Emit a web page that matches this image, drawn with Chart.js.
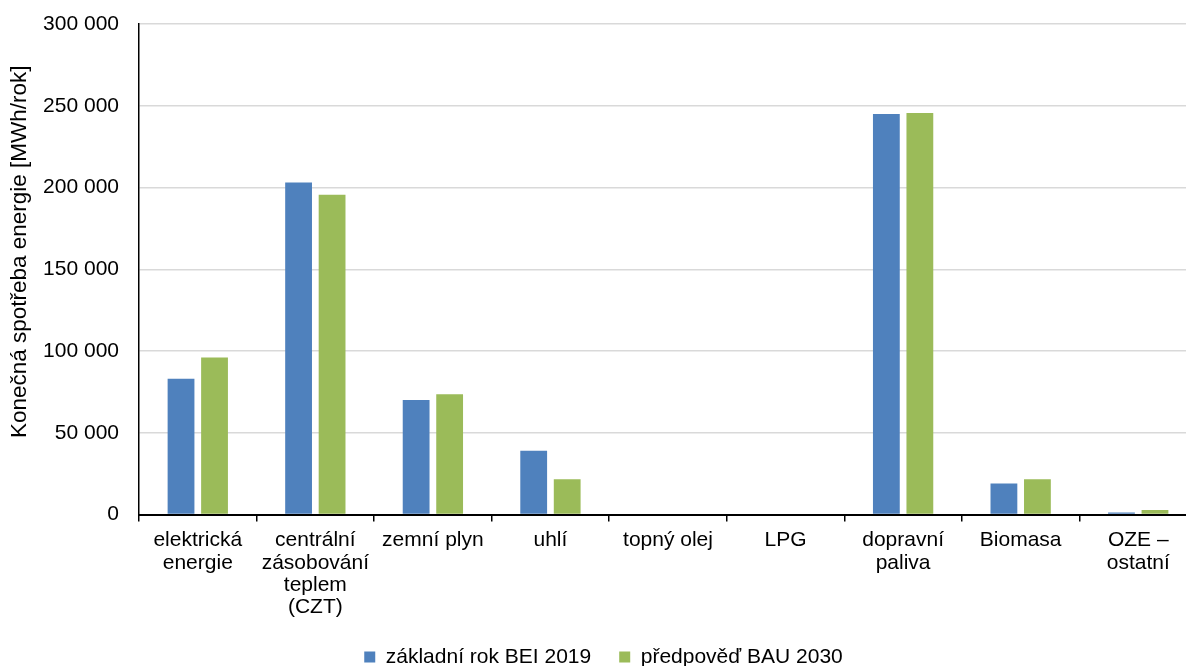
<!DOCTYPE html>
<html>
<head>
<meta charset="utf-8">
<script src="https://cdn.jsdelivr.net/npm/chart.js@4/dist/chart.umd.min.js"></script>
<style>
  html, body { margin: 0; padding: 0; background: #fff; overflow: hidden; }
  #wrap { width: 1206px; height: 666px; position: relative; }
</style>
</head>
<body>
<div id="wrap"><canvas id="c"></canvas></div>
<script>
const categories = [
  ["elektrická", "energie"],
  ["centrální", "zásobování", "teplem", "(CZT)"],
  "zemní plyn",
  "uhlí",
  "topný olej",
  "LPG",
  ["dopravní", "paliva"],
  "Biomasa",
  ["OZE –", "ostatní"]
];
const seriesNames = ["základní rok BEI 2019", "předpověď BAU 2030"];
const baseline2019 = [83000, 203000, 70000, 39000, 0, 0, 245000, 19000, 1200];
const bau2030 = [96000, 195500, 73500, 21500, 0, 0, 245500, 21500, 2700];
const yAxisTitle = "Konečná spotřeba energie [MWh/rok]";
const yMax = 300000;
const yStep = 50000;

const FONT = "'Liberation Sans', Arial, sans-serif";
Chart.defaults.font.family = FONT;
Chart.defaults.color = '#000';

// Layout helper: legend placement and y-title offset.
const layoutTweaks = {
  id: 'layoutTweaks',
  beforeUpdate(chart) {
    const lg = chart.legend;
    if (lg && !lg._patchedFit) {
      const orig = lg.fit;
      lg.fit = function () { orig.call(this); this.height = 44; };
      lg._patchedFit = true;
    }
  },
  afterLayout(chart) {
    const lg = chart.legend;
    if (lg) {
      lg.top = 618.5;
      lg.bottom = chart.height;
      lg.left = 10;
    }
    const ys = chart.scales.y;
    if (ys && !ys._patchedTitle) {
      const origTitle = ys.drawTitle;
      ys.drawTitle = function () {
        const ctx = this.ctx;
        ctx.save();
        ctx.translate(0, -17.5);
        origTitle.apply(this, arguments);
        ctx.restore();
      };
      ys._patchedTitle = true;
    }
  }
};

new Chart(document.getElementById('c'), {
  type: 'bar',
  data: {
    labels: categories,
    datasets: [
      { label: seriesNames[0], data: baseline2019, backgroundColor: '#4f81bd', categoryPercentage: 0.57, barPercentage: 0.8 },
      { label: seriesNames[1], data: bau2030, backgroundColor: '#9bbb59', categoryPercentage: 0.57, barPercentage: 0.8 }
    ]
  },
  plugins: [layoutTweaks],
  options: {
    responsive: true,
    maintainAspectRatio: false,
    animation: false,
    layout: { padding: { top: 4, right: 9, left: 0, bottom: 0 } },
    plugins: {
      legend: {
        position: 'bottom',
        labels: { boxWidth: 11, boxHeight: 11, padding: 28, font: { size: 21 }, color: '#000' }
      },
      tooltip: { enabled: false }
    },
    scales: {
      x: {
        grid: { display: true, offset: true, drawOnChartArea: false, drawTicks: true, tickLength: 7, color: '#000', lineWidth: 1.5 },
        border: { display: true, color: '#000', width: 2 },
        ticks: { font: { size: 21, lineHeight: 1.06 }, color: '#000', padding: 8, maxRotation: 0, autoSkip: false },
        afterFit(scale) { scale.height = 107.5; }
      },
      y: {
        min: 0,
        max: yMax,
        ticks: {
          stepSize: yStep,
          font: { size: 21 },
          color: '#000',
          padding: 20,
          callback: (v) => String(v).replace(/\B(?=(\d{3})+(?!\d))/g, ' ')
        },
        grid: { color: '#d9d9d9', lineWidth: 1.5, drawTicks: false },
        border: { display: true, color: '#000', width: 1.5 },
        title: { display: true, text: yAxisTitle, font: { size: 22.5 }, color: '#000', padding: { top: 6.5, bottom: 0 } },
        afterFit(scale) { scale.width = 139; scale.paddingTop = 24; }
      }
    }
  }
});
</script>
</body>
</html>
